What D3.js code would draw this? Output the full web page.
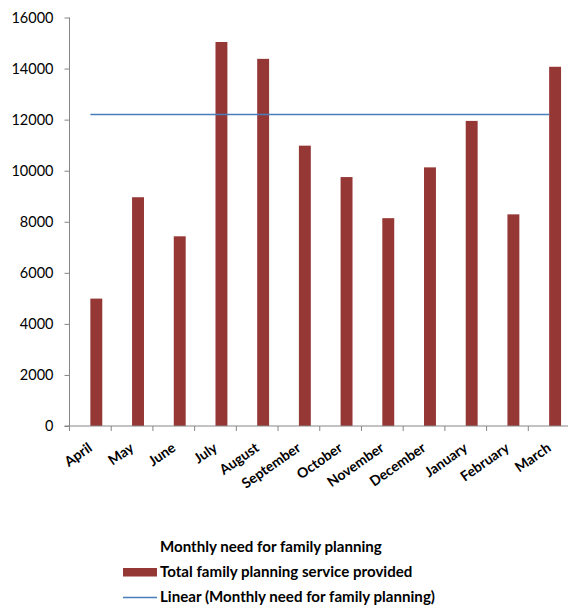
<!DOCTYPE html>
<html><head><meta charset="utf-8">
<script src="https://cdn.jsdelivr.net/npm/d3@7"></script>
<style>html,body{margin:0;padding:0;background:#fff}svg{display:block}</style>
</head><body>
<script>
const months = ["April","May","June","July","August","September","October","November","December","January","February","March"];
const totalProvided = [4990, 8960, 7430, 15040, 14380, 10980, 9750, 8140, 10130, 11950, 8290, 14070];
const monthlyNeed = [12200, 12200, 12200, 12200, 12200, 12200, 12200, 12200, 12200, 12200, 12200, 12200];
const yTicks = [0, 2000, 4000, 6000, 8000, 10000, 12000, 14000, 16000];
const seriesNames = ["Monthly need for family planning", "Total family planning service provided", "Linear (Monthly need for family planning)"];

const W = 568, H = 605;
const svg = d3.select("body").append("svg").attr("width", W).attr("height", H);
const mLeft = 69.5, mRight = 570, mTop = 17.5, mBottom = 426;
const x = d3.scaleBand().domain(months).range([mLeft, mRight]).paddingInner(0.4286).paddingOuter(0.2143);
const xs = d3.scaleBand().domain(["need","total"]).range([0, x.bandwidth()]);
const y = d3.scaleLinear().domain([0, 16000]).range([mBottom, mTop]);
const axisCol = "#868686";

// bars
const g = svg.append("g");
g.selectAll("rect.need").data(months).join("rect").attr("class","need")
  .attr("x", d => x(d) + xs("need")).attr("width", xs.bandwidth())
  .attr("y", (d,i) => y(monthlyNeed[i])).attr("height", (d,i) => mBottom - y(monthlyNeed[i]))
  .attr("fill", "none");
g.selectAll("rect.total").data(months).join("rect").attr("class","total")
  .attr("x", d => x(d) + xs("total")).attr("width", xs.bandwidth())
  .attr("y", (d,i) => y(totalProvided[i])).attr("height", (d,i) => mBottom - y(totalProvided[i]))
  .attr("fill", "#953735");

// y axis
const yAxis = d3.axisLeft(y).tickValues(yTicks).tickSize(5).tickPadding(11).tickFormat(d3.format("d"));
const ya = svg.append("g").attr("transform", `translate(${mLeft},0)`).call(yAxis);
ya.select(".domain").attr("stroke", axisCol).attr("d", `M0,${mTop}V${mBottom}`);
ya.selectAll(".tick line").attr("stroke", axisCol);
ya.selectAll(".tick text").attr("font-family", "Lato, 'Open Sans', sans-serif").attr("font-size", 14.5).attr("fill", "#000");

// x axis
const xTickPos = months.map((m,i) => mLeft + i * x.step()).concat([mLeft + months.length * x.step()]);
const xa = svg.append("g");
xa.append("line").attr("x1", mLeft - 5).attr("x2", mRight).attr("y1", mBottom).attr("y2", mBottom).attr("stroke", axisCol);
xa.selectAll("line.tk").data(xTickPos).join("line").attr("class","tk")
  .attr("x1", d => d).attr("x2", d => d).attr("y1", mBottom).attr("y2", mBottom + 5).attr("stroke", axisCol);
xa.selectAll("text").data(months).join("text")
  .attr("transform", d => `translate(${x(d) + x.bandwidth()/2},${mBottom + 20}) rotate(-35)`)
  .attr("text-anchor", "end").attr("dy", "0.35em")
  .attr("font-family", "Lato, 'Open Sans', sans-serif").attr("font-weight", "bold").attr("font-size", 14)
  .attr("fill", "#000").text(d => d);

// linear trendline of monthly need
const n = monthlyNeed.length;
const xi = d3.range(n);
const mx = d3.mean(xi), my = d3.mean(monthlyNeed);
const slope = d3.sum(xi, i => (i - mx) * (monthlyNeed[i] - my)) / d3.sum(xi, i => (i - mx) ** 2);
const icpt = my - slope * mx;
const cx = i => x(months[i]) + x.bandwidth()/2;
svg.append("line").attr("x1", cx(0)).attr("x2", cx(n-1))
  .attr("y1", y(icpt)).attr("y2", y(icpt + slope * (n-1)))
  .attr("stroke", "#4A7EBB").attr("stroke-width", 1.3);

// legend
const lg = svg.append("g").attr("font-family", "Lato, 'Open Sans', sans-serif").attr("font-weight", "bold").attr("font-size", 15.1);
lg.append("text").attr("x", 160).attr("y", 552).text(seriesNames[0]);
lg.append("rect").attr("x", 123).attr("y", 568).attr("width", 34).attr("height", 8.5).attr("fill", "#953735");
lg.append("text").attr("x", 160).attr("y", 577).text(seriesNames[1]);
lg.append("line").attr("x1", 123).attr("x2", 157).attr("y1", 597.5).attr("y2", 597.5).attr("stroke", "#4A7EBB").attr("stroke-width", 1.3);
lg.append("text").attr("x", 160).attr("y", 602).text(seriesNames[2]);
</script>
</body></html>
